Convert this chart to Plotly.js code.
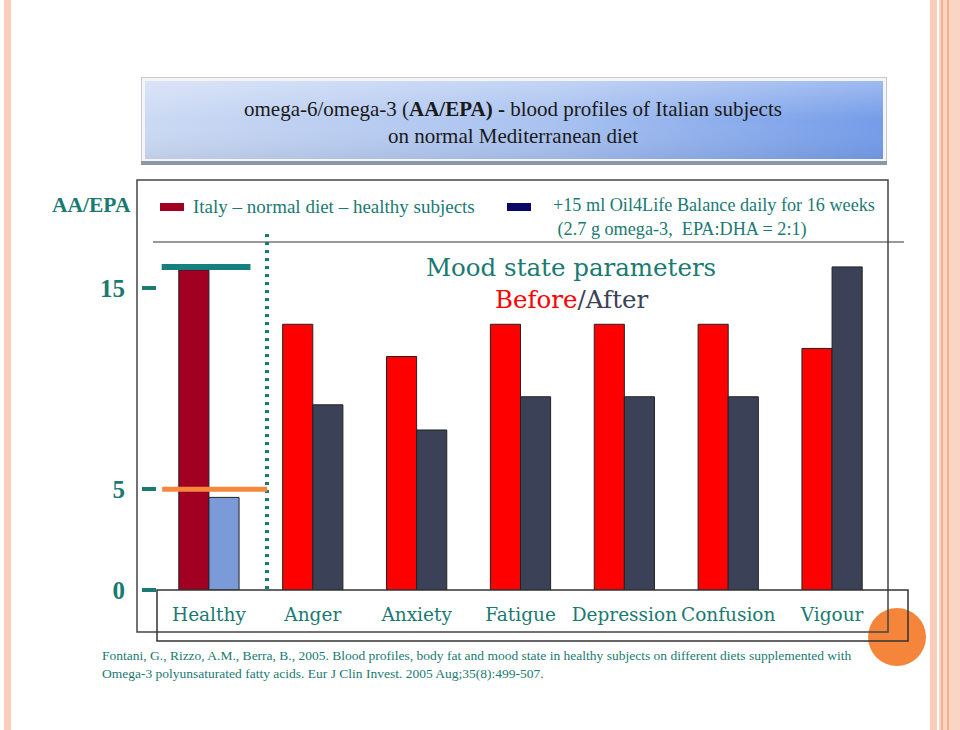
<!DOCTYPE html>
<html><head><meta charset="utf-8">
<script src="https://cdn.plot.ly/plotly-3.0.1.min.js"></script>
<style>html,body{margin:0;padding:0;background:#fff}#chart{width:960px;height:730px}</style>
</head><body><div id="chart"></div>
<script>
// ---- data ----
const categories = ['Healthy', 'Anger', 'Anxiety', 'Fatigue', 'Depression', 'Confusion', 'Vigour'];
const healthyGroup = ['Healthy'];
const italyAAEPA = [15.9];          // Italy – normal diet – healthy subjects
const oilAAEPA = [4.6];             // +15 ml Oil4Life Balance daily for 16 weeks
const moodCategories = ['Anger', 'Anxiety', 'Fatigue', 'Depression', 'Confusion', 'Vigour'];
const moodBefore = [13.2, 11.6, 13.2, 13.2, 13.2, 12.0];
const moodAfter = [9.2, 7.95, 9.6, 9.6, 9.6, 16.05];
const yTickVals = [0, 5, 15];
const yTickText = ['0', '5', '15'];
const markerLevels = [16.05, 5];    // teal marker (Italy), orange marker (after)

// ---- styling helpers (decoration only) ----
const L = 157, R = 884, T = 180, B = 590;
const W = R - L, H = B - T;
const px = X => (X - L) / W;
const py = Y => (B - Y) / H;
const TEAL = '#1a7a72';
const SERIF = 'Liberation Serif, Times New Roman, serif';
const WIDE = 'DejaVu Serif, serif';

const traces = [
  {type: 'bar', x: healthyGroup, y: italyAAEPA, name: 'Italy – normal diet – healthy subjects',
   offsetgroup: 'a', marker: {color: '#a10022', line: {color: '#222', width: 1}}, xaxis: 'x', yaxis: 'y'},
  {type: 'bar', x: healthyGroup, y: oilAAEPA, name: '+15 ml Oil4Life Balance daily for 16 weeks',
   offsetgroup: 'b', marker: {color: '#7b9bd8', line: {color: '#222', width: 1}}, xaxis: 'x', yaxis: 'y'},
  {type: 'bar', x: moodCategories, y: moodBefore, name: 'Before',
   offsetgroup: 'a', marker: {color: '#ff0000', line: {color: '#222', width: 1}}, xaxis: 'x', yaxis: 'y2'},
  {type: 'bar', x: moodCategories, y: moodAfter, name: 'After',
   offsetgroup: 'b', marker: {color: '#3b4257', line: {color: '#222', width: 1}}, xaxis: 'x', yaxis: 'y2'}
];

const svg = "<svg xmlns='http://www.w3.org/2000/svg' width='746' height='88' viewBox='0 0 746 88'>" +
  "<defs><linearGradient id='g' x1='0' x2='1' y1='0' y2='0'>" +
  "<stop offset='0' stop-color='#cbd9f3'/><stop offset='0.55' stop-color='#a9c2f0'/><stop offset='1' stop-color='#749ce9'/></linearGradient>" +
  "<linearGradient id='v' x1='0' x2='0' y1='0' y2='1'><stop offset='0' stop-color='#ffffff' stop-opacity='0.3'/>" +
  "<stop offset='0.5' stop-color='#ffffff' stop-opacity='0'/><stop offset='1' stop-color='#000000' stop-opacity='0.06'/></linearGradient></defs>" +
  "<rect x='0' y='0' width='746' height='88' fill='#c8c8c8'/>" +
  "<rect x='1' y='1' width='744' height='84' fill='#f3f5fa'/>" +
  "<rect x='4' y='4' width='738' height='78' fill='url(#g)'/>" +
  "<rect x='4' y='4' width='738' height='78' fill='url(#v)'/>" +
  "<rect x='0' y='84' width='746' height='4' fill='#8f96a3'/></svg>";

const shapes = [
  // side stripes
  {type: 'rect', xref: 'paper', yref: 'paper', x0: px(4), x1: px(11), y0: py(0), y1: py(730), fillcolor: '#f9cdb8', line: {width: 0}, layer: 'below'},
  {type: 'rect', xref: 'paper', yref: 'paper', x0: px(930), x1: px(937), y0: py(0), y1: py(730), fillcolor: '#f9cdb8', line: {width: 0}, layer: 'below'},
  {type: 'rect', xref: 'paper', yref: 'paper', x0: px(939), x1: px(960), y0: py(0), y1: py(730), fillcolor: '#fbd5c3', line: {width: 0}, layer: 'below'},
  {type: 'line', xref: 'paper', yref: 'paper', x0: px(942), x1: px(942), y0: py(0), y1: py(730), line: {color: '#f1a27c', width: 1.5}, layer: 'below'},
  {type: 'line', xref: 'paper', yref: 'paper', x0: px(948), x1: px(948), y0: py(0), y1: py(730), line: {color: '#f1a27c', width: 1.5}, layer: 'below'},
  // orange circle
  {type: 'circle', xref: 'paper', yref: 'paper', x0: px(868), x1: px(926), y0: py(608), y1: py(666), fillcolor: '#f5853a', line: {width: 0}, layer: 'below'},
  // outer frame
  {type: 'rect', xref: 'paper', yref: 'paper', x0: px(137), x1: px(888), y0: py(180), y1: py(632), line: {color: '#444', width: 1.5}},
  // header rule
  {type: 'line', xref: 'paper', yref: 'paper', x0: px(153), x1: px(904), y0: py(242), y1: py(242), line: {color: '#333', width: 1.2}},
  // label box
  {type: 'rect', xref: 'paper', yref: 'paper', x0: px(157), x1: px(908), y0: py(590), y1: py(641), line: {color: '#333', width: 1.5}},
  // dotted separator
  {type: 'line', xref: 'paper', yref: 'paper', x0: px(267), x1: px(267), y0: py(234), y1: py(593), line: {color: TEAL, width: 4, dash: '3px,5px'}},
  // marker levels
  {type: 'line', xref: 'x', yref: 'y', x0: -0.455, x1: 0.4, y0: markerLevels[0], y1: markerLevels[0], line: {color: '#168080', width: 6}},
  {type: 'line', xref: 'x', yref: 'y', x0: -0.45, x1: 0.56, y0: markerLevels[1], y1: markerLevels[1], line: {color: '#f5883c', width: 5}},
  // legend swatches
  {type: 'rect', xref: 'paper', yref: 'paper', x0: px(160), x1: px(184), y0: py(203), y1: py(211), fillcolor: '#a10022', line: {width: 0}},
  {type: 'rect', xref: 'paper', yref: 'paper', x0: px(507), x1: px(531), y0: py(203), y1: py(211), fillcolor: '#0a0a66', line: {width: 0}}
];

const ann = (X, Y, text, opts) => Object.assign({xref: 'paper', yref: 'paper', x: px(X), y: py(Y), text: text,
  showarrow: false, xanchor: 'left', yanchor: 'middle'}, opts);

const annotations = [
  ann(513, 122, 'omega-6/omega-3 (<b>AA/EPA) -</b> blood profiles of Italian subjects<br>on normal Mediterranean diet',
    {xanchor: 'center', font: {family: SERIF, size: 21, color: '#1a1a1a'}}),
  ann(133, 205, '<b>AA/EPA</b>', {xanchor: 'right', font: {family: SERIF, size: 21.5, color: TEAL}}),
  ann(191, 207, 'Italy – normal diet – healthy subjects', {font: {family: SERIF, size: 19, color: TEAL}}),
  ann(551, 217, '+15 ml Oil4Life Balance daily for 16 weeks<br> (2.7 g omega-3,  EPA:DHA = 2:1)',
    {align: 'left', font: {family: SERIF, size: 18.2, color: TEAL}}),
  ann(571, 267, 'Mood state parameters', {xanchor: 'center', font: {family: WIDE, size: 24.5, color: TEAL}}),
  ann(571, 299, '<span style="color:#ff0000">Before</span>/After', {xanchor: 'center', font: {family: WIDE, size: 24.5, color: '#3b4257'}}),
  ann(100, 664, 'Fontani, G., Rizzo, A.M., Berra, B., 2005. Blood profiles, body fat and mood state in healthy subjects on different diets supplemented with<br>Omega-3 polyunsaturated fatty acids. Eur J Clin Invest. 2005 Aug;35(8):499-507.',
    {align: 'left', font: {family: SERIF, size: 13.5, color: TEAL}})
];

const layout = {
  width: 960, height: 730,
  margin: {l: L, r: 960 - R, t: T, b: 730 - B},
  paper_bgcolor: '#ffffff', plot_bgcolor: 'rgba(0,0,0,0)',
  showlegend: false,
  barmode: 'group', bargap: 0.42, bargroupgap: 0,
  xaxis: {type: 'category', categoryorder: 'array', categoryarray: categories, range: [-0.5, 6.5],
    showgrid: false, zeroline: false, showline: false, ticks: 'outside', ticklen: 8, tickcolor: 'rgba(0,0,0,0)',
    tickangle: 0, automargin: false,
    tickfont: {family: WIDE, size: 18.5, color: TEAL}},
  yaxis: {range: [0, H / 20.13], tickvals: yTickVals, ticktext: yTickText, showgrid: false, zeroline: false,
    showline: false, ticks: 'outside', ticklen: 14, tickwidth: 4, tickcolor: TEAL, ticklabelstandoff: 12,
    tickfont: {family: SERIF, size: 25, color: TEAL, weight: 'bold'}},
  yaxis2: {range: [0, H / 20.13], overlaying: 'y', visible: false, showgrid: false, zeroline: false},
  images: [{source: 'data:image/svg+xml;charset=utf-8,' + encodeURIComponent(svg), xref: 'paper', yref: 'paper',
    x: px(141), y: py(77), sizex: 746 / W, sizey: 88 / H, sizing: 'stretch', xanchor: 'left', yanchor: 'top', layer: 'below'}],
  shapes: shapes,
  annotations: annotations
};

Plotly.newPlot('chart', traces, layout, {displayModeBar: false, staticPlot: true});
</script></body></html>
